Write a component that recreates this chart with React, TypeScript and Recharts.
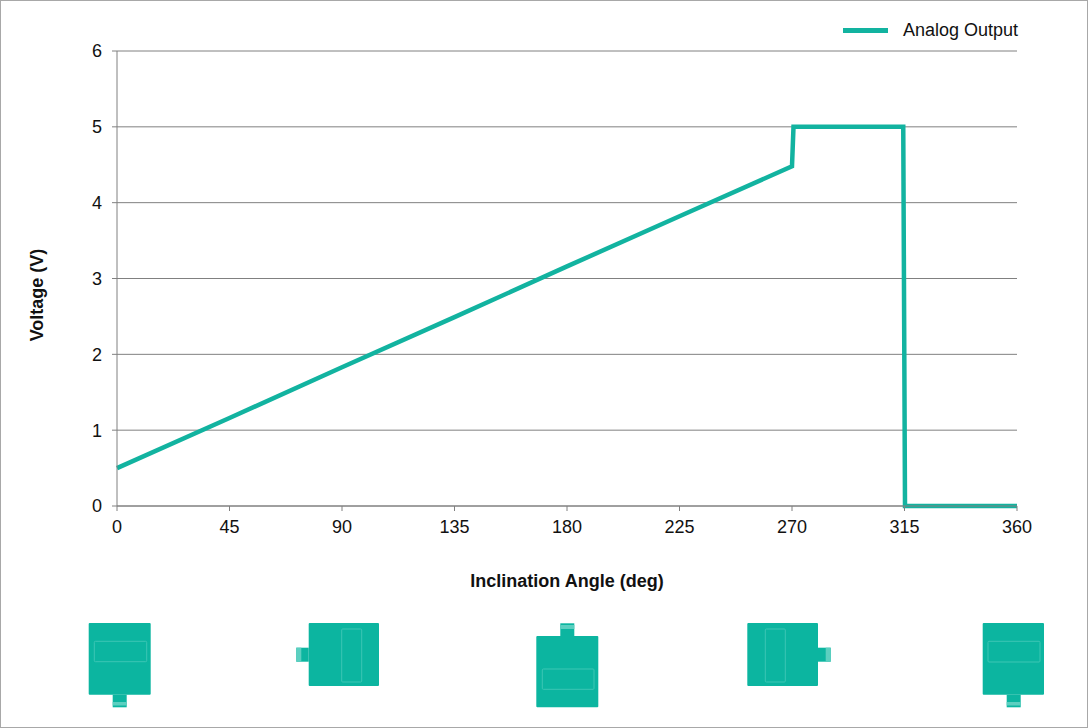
import { LineChart, Line, XAxis, YAxis, CartesianGrid, Legend, Label } from 'recharts';

const angles = [0, 45, 90, 135, 180, 225, 270, 270.6, 314.5, 315.2, 360];
const voltages = [0.5, 1.16, 1.83, 2.49, 3.16, 3.82, 4.48, 5, 5, 0, 0];
const xTicks = [0, 45, 90, 135, 180, 225, 270, 315, 360];
const yTicks = [0, 1, 2, 3, 4, 5, 6];
const SERIES_NAME = 'Analog Output';

const chartData = angles.map((angle, i) => ({ angle, voltage: voltages[i] }));

const TEAL = '#12b3a0';
const BODY = '#0cb5a0';
const WINDOW_EDGE = '#3cc6b4';
const TAB_EDGE = '#5ccfc0';
const AXIS = '#808080';
const FONT = '"Liberation Sans", Arial, sans-serif';

// sensor orientation drawings under the axis, not data
const sensorIcons = [
  { body: [88.7, 623, 62, 71.7], tab: [112.7, 694.7, 14, 12.6], strip: [112.7, 702, 14, 3.5], win: [94.3, 641.3, 52.4, 20.4] },
  { body: [308.7, 623, 70.3, 63], tab: [296.3, 647.7, 12.4, 14], strip: [296.3, 647.7, 5, 14], win: [341.7, 629, 20, 53] },
  { body: [536.3, 636, 62, 71.3], tab: [560.3, 623.3, 14, 12.7], strip: [560.3, 625, 14, 4], win: [542.3, 669, 51.7, 20.3] },
  { body: [747.3, 623, 70.7, 63], tab: [818, 647.7, 12.7, 14], strip: [825.7, 647.7, 5, 14], win: [765.3, 629, 20, 53] },
  { body: [982.7, 623, 61.3, 71.7], tab: [1006.7, 694.7, 14, 12.6], strip: [1006.7, 702, 14, 3.5], win: [988, 641.3, 52, 20.7] },
];

function SensorIcons() {
  return (
    <svg width={1088} height={728} style={{ position: 'absolute', left: 0, top: 0, pointerEvents: 'none' }}>
      {sensorIcons.map((icon, i) => (
        <g key={i}>
          <rect x={icon.tab[0]} y={icon.tab[1]} width={icon.tab[2]} height={icon.tab[3]} fill={BODY} />
          <rect x={icon.strip[0]} y={icon.strip[1]} width={icon.strip[2]} height={icon.strip[3]} fill={TAB_EDGE} />
          <rect x={icon.body[0]} y={icon.body[1]} width={icon.body[2]} height={icon.body[3]} rx={1} fill={BODY} />
          <rect x={icon.win[0]} y={icon.win[1]} width={icon.win[2]} height={icon.win[3]} rx={1} fill="none" stroke={WINDOW_EDGE} strokeWidth={1} />
        </g>
      ))}
    </svg>
  );
}

function LegendContent() {
  return (
    <div style={{ display: 'flex', alignItems: 'center', fontFamily: FONT, fontSize: 18, color: '#111', whiteSpace: 'nowrap' }}>
      <span style={{ display: 'inline-block', width: 45, height: 5, background: TEAL, marginRight: 15 }} />
      {SERIES_NAME}
    </div>
  );
}

function VoltageTitle() {
  return (
    <text
      x={0}
      y={0}
      transform="translate(43 295) rotate(-90)"
      textAnchor="middle"
      style={{ fontSize: 18, fontWeight: 700, fill: '#111', fontFamily: FONT }}
    >
      Voltage (V)
    </text>
  );
}

export default function App() {
  const tick = { fontSize: 18, fill: '#111', fontFamily: FONT };
  return (
    <div style={{ position: 'relative', width: 1088, height: 728, background: '#fff' }}>
      <style>{'body { margin: 0; }'}</style>
      <LineChart
        width={1088}
        height={728}
        data={chartData}
        margin={{ top: 51, right: 71, bottom: 182, left: 0 }}
      >
        <CartesianGrid vertical={false} stroke={AXIS} strokeWidth={1} />
        <XAxis
          dataKey="angle"
          type="number"
          domain={[0, 360]}
          ticks={xTicks}
          interval={0}
          height={40}
          tick={tick}
          tickSize={5}
          tickMargin={9}
          axisLine={{ stroke: AXIS }}
          tickLine={{ stroke: AXIS }}
        >
          <Label
            value="Inclination Angle (deg)"
            position="bottom"
            offset={28}
            style={{ fontSize: 18, fontWeight: 700, fill: '#111', fontFamily: FONT }}
          />
        </XAxis>
        <YAxis
          type="number"
          domain={[0, 6]}
          ticks={yTicks}
          interval={0}
          width={117}
          tick={tick}
          tickSize={5}
          tickMargin={10}
          axisLine={{ stroke: AXIS }}
          tickLine={{ stroke: AXIS }}
        >
          <Label content={<VoltageTitle />} />
        </YAxis>
        <Legend
          layout="horizontal"
          verticalAlign="middle"
          align="center"
          content={<LegendContent />}
          wrapperStyle={{ position: 'absolute', left: 843, top: 20, width: 200, height: 20, margin: 0 }}
        />
        <Line
          type="linear"
          dataKey="voltage"
          name={SERIES_NAME}
          stroke={TEAL}
          strokeWidth={4.5}
          dot={false}
          activeDot={false}
          isAnimationActive={false}
        />
      </LineChart>
      <SensorIcons />
      <div style={{ position: 'absolute', inset: 0, border: '1px solid #a8a8a8', pointerEvents: 'none' }} />
    </div>
  );
}
